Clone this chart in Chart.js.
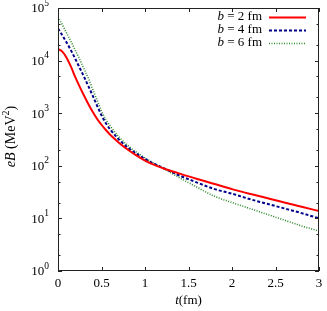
<!DOCTYPE html>
<html>
<head>
<meta charset="utf-8">
<script src="https://cdn.jsdelivr.net/npm/chart.js@4/dist/chart.umd.min.js"></script>
<style>
html,body{margin:0;padding:0;background:#fff;}
#wrap{width:327px;height:311px;position:relative;}
</style>
</head>
<body>
<div id="wrap"><canvas id="c" width="327" height="311"></canvas></div>
<script>
// time (fm)
const tVals = [0,0.05,0.1,0.15,0.2,0.25,0.3,0.35,0.4,0.45,0.5,0.55,0.6,0.7,0.8,0.9,1.0,1.1,1.2,1.4,1.6,1.8,2.0,2.2,2.4,2.6,2.8,3.0];
// eB (MeV^2) for b = 2 fm
const b2 = [16600,14800,11200,7590,4790,3160,2140,1480,1050,776,603,479,389,275,204,158,126,105,91,71,56,45,36,29.5,24.5,20,16.6,13.8];
// b = 4 fm
const b4 = [40700,30200,21900,15500,10700,7240,4900,3240,2140,1380,912,646,490,316,224,170,135,110,93,65,48,36,29.5,23.4,19,15.5,12.6,10];
// b = 6 fm
const b6 = [67600,47900,33100,22900,15500,10500,6920,4570,2820,1780,1100,760,575,355,245,182,141,112,91,59,39,26.3,20,15.5,12,9.3,7.2,5.75];

const xTicks = [0,0.5,1,1.5,2,2.5,3];
const xTickLabels = ['0','0.5','1','1.5','2','2.5','3'];
const yTickExps = [0,1,2,3,4,5];
const legendB = ['2','4','6'];
const seriesNames = ['b = 2 fm','b = 4 fm','b = 6 fm'];

const colors = ['#ff0000','#00008b','#2e8b2e'];
const SERIF = '"Liberation Serif", "DejaVu Serif", serif';

function pts(arr){ return tVals.map((t,i)=>({x:t,y:arr[i]})); }

const decor = {
  id:'decor',
  afterDraw(chart){
    const ctx = chart.ctx, ca = chart.chartArea;
    const xs = chart.scales.x, ys = chart.scales.y;
    ctx.save();
    // frame
    ctx.strokeStyle = '#222';
    ctx.lineWidth = 1;
    ctx.strokeRect(Math.round(ca.left)+0.5, Math.round(ca.top)+0.5, Math.round(ca.right-ca.left)-1, Math.round(ca.bottom-ca.top)-1);
    // x ticks (bottom & top)
    ctx.beginPath();
    xTicks.forEach(v=>{
      const px = Math.round(xs.getPixelForValue(v))+0.5;
      ctx.moveTo(px, ca.bottom); ctx.lineTo(px, ca.bottom-4);
      ctx.moveTo(px, ca.top); ctx.lineTo(px, ca.top+4);
    });
    // y ticks (left & right)
    yTickExps.forEach(e=>{
      const py = Math.round(ys.getPixelForValue(Math.pow(10,e)))+0.5;
      ctx.moveTo(ca.left, py); ctx.lineTo(ca.left+4, py);
      ctx.moveTo(ca.right, py); ctx.lineTo(ca.right-4, py);
      if (e < 5) {
        [2,5].forEach(m=>{
          const pm = Math.round(ys.getPixelForValue(m*Math.pow(10,e)))+0.5;
          ctx.moveTo(ca.left, pm); ctx.lineTo(ca.left+2.5, pm);
          ctx.moveTo(ca.right, pm); ctx.lineTo(ca.right-2.5, pm);
        });
      }
    });
    ctx.stroke();

    ctx.fillStyle = '#000';
    ctx.textBaseline = 'middle';
    // x tick labels
    ctx.font = '13px ' + SERIF;
    ctx.textAlign = 'center';
    xTicks.forEach((v,i)=>{
      ctx.fillText(xTickLabels[i], xs.getPixelForValue(v), ca.bottom+13);
    });
    // y tick labels 10^e
    yTickExps.forEach(e=>{
      const py = ys.getPixelForValue(Math.pow(10,e));
      ctx.font = '9.5px ' + SERIF;
      const ew = ctx.measureText(String(e)).width;
      const right = ca.left - 9;
      ctx.textAlign = 'left';
      ctx.fillText(String(e), right - ew, py - 5);
      ctx.font = '13px ' + SERIF;
      ctx.textAlign = 'right';
      ctx.fillText('10', right - ew, py + 1);
    });
    // x axis title: t(fm)
    {
      ctx.textAlign = 'left';
      ctx.font = 'italic 13px ' + SERIF;
      const w1 = ctx.measureText('t').width;
      ctx.font = '13px ' + SERIF;
      const w2 = ctx.measureText('(fm)').width;
      const cx = (ca.left + ca.right)/2;
      let x0 = cx - (w1+w2)/2;
      const y = 301;
      ctx.font = 'italic 13px ' + SERIF;
      ctx.fillText('t', x0, y);
      ctx.font = '13px ' + SERIF;
      ctx.fillText('(fm)', x0 + w1, y);
    }
    // y axis title: eB (MeV^2)
    {
      ctx.save();
      const cy = (ca.top + ca.bottom)/2 - 3;
      ctx.translate(11, cy);
      ctx.rotate(-Math.PI/2);
      ctx.textAlign = 'left';
      const parts = [
        {t:'eB', f:'italic 14px ' + SERIF, dy:0},
        {t:' (MeV', f:'14px ' + SERIF, dy:0},
        {t:'2', f:'10px ' + SERIF, dy:-5},
        {t:')', f:'14px ' + SERIF, dy:0}
      ];
      let tw = 0;
      parts.forEach(p=>{ ctx.font = p.f; p.w = ctx.measureText(p.t).width; tw += p.w; });
      let x = -tw/2;
      parts.forEach(p=>{ ctx.font = p.f; ctx.fillText(p.t, x, p.dy); x += p.w; });
      ctx.restore();
    }
    // legend
    const rowsY = [17, 30, 43];
    const textRight = 262, lineL = 269, lineR = 306;
    chart.data.datasets.forEach((ds,i)=>{
      const y = rowsY[i];
      ctx.textAlign = 'left';
      ctx.font = 'italic 13px ' + SERIF;
      const wb = ctx.measureText('b').width;
      ctx.font = '13px ' + SERIF;
      const rest = ' = ' + legendB[i] + ' fm';
      const wr = ctx.measureText(rest).width;
      const x0 = textRight - wb - wr;
      ctx.font = 'italic 13px ' + SERIF;
      ctx.fillText('b', x0, y);
      ctx.font = '13px ' + SERIF;
      ctx.fillText(rest, x0 + wb, y);
      ctx.beginPath();
      ctx.strokeStyle = ds.borderColor;
      ctx.lineWidth = ds.borderWidth;
      ctx.setLineDash(ds.borderDash || []);
      ctx.moveTo(lineL, y + 0.5); ctx.lineTo(lineR, y + 0.5);
      ctx.stroke();
      ctx.setLineDash([]);
    });
    ctx.restore();
  }
};

new Chart(document.getElementById('c'), {
  type: 'line',
  data: {
    datasets: [
      {label: seriesNames[0], data: pts(b2), borderColor: colors[0], borderWidth: 2, pointRadius: 0, cubicInterpolationMode: 'monotone', fill: false},
      {label: seriesNames[1], data: pts(b4), borderColor: colors[1], borderWidth: 2, borderDash: [3,2], pointRadius: 0, cubicInterpolationMode: 'monotone', fill: false},
      {label: seriesNames[2], data: pts(b6), borderColor: colors[2], borderWidth: 1.6, borderDash: [1,1.5], pointRadius: 0, cubicInterpolationMode: 'monotone', fill: false}
    ]
  },
  options: {
    responsive: false,
    animation: false,
    events: [],
    layout: {padding: {top: 8, right: 8, left: 0, bottom: 0}},
    plugins: {legend: {display: false}, tooltip: {enabled: false}},
    scales: {
      x: {
        type: 'linear', min: 0, max: 3,
        grid: {display: false, drawTicks: false},
        border: {display: false},
        ticks: {display: false},
        afterFit(s){ s.height = 40; }
      },
      y: {
        type: 'logarithmic', min: 1, max: 100000,
        grid: {display: false, drawTicks: false},
        border: {display: false},
        ticks: {display: false},
        afterFit(s){ s.width = 58; }
      }
    }
  },
  plugins: [decor]
});
</script>
</body>
</html>
